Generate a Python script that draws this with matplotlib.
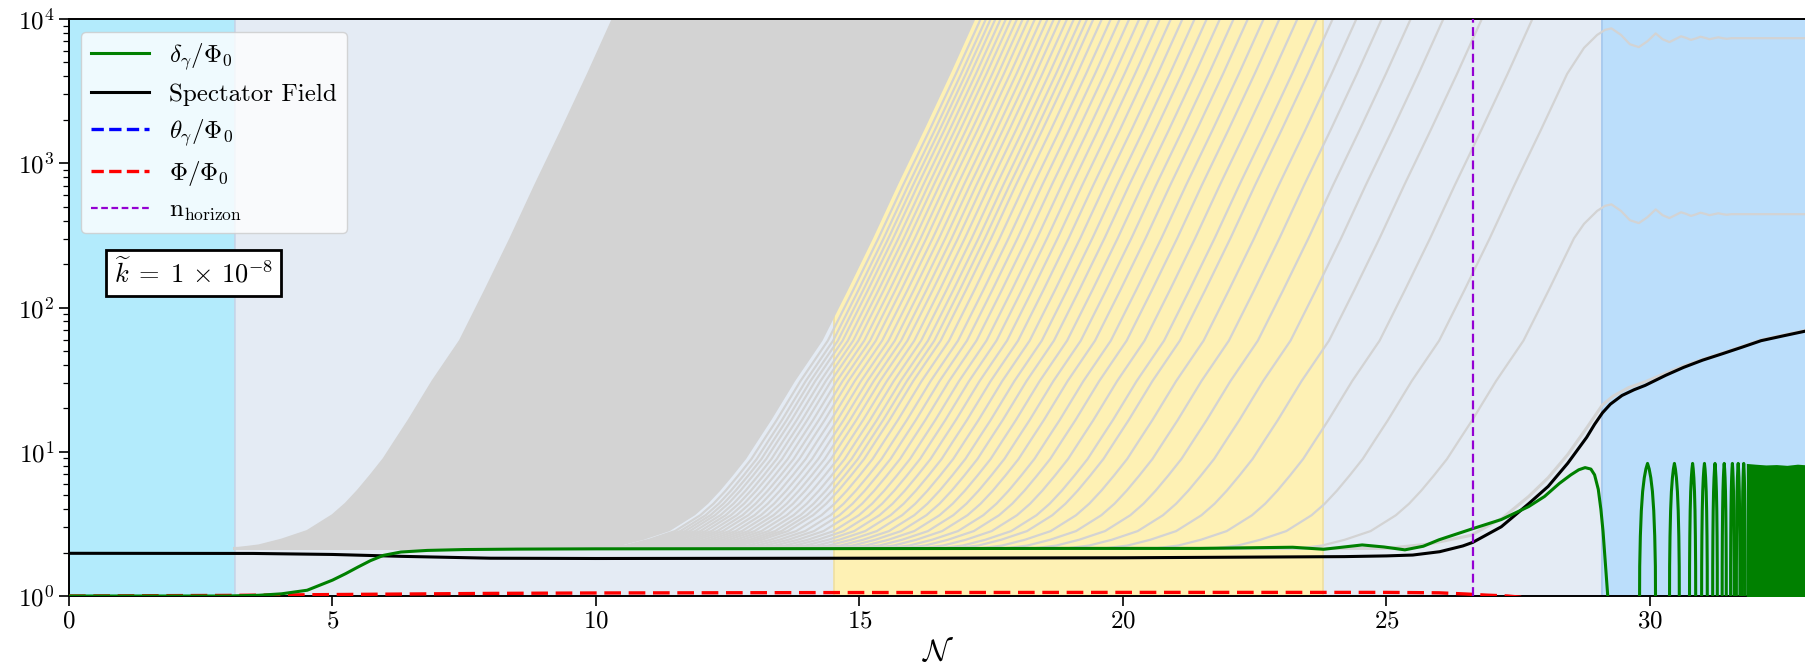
import numpy as np
import matplotlib
matplotlib.use('Agg')
import matplotlib.pyplot as plt

plt.rcParams['font.family'] = 'serif'
plt.rcParams['font.serif'] = ['cmr10']
plt.rcParams['mathtext.fontset'] = 'cm'
plt.rcParams['axes.formatter.use_mathtext'] = True
plt.rcParams['axes.unicode_minus'] = False

# background eras
span_start = [0.0, 3.15, 14.52, 29.1]
span_end = [3.15, 29.1, 23.8, 33.3]
span_colors = ['#b3ebfc', '#e4ebf4', '#fef1b4', '#bbdefb']
span_edges = ['#9fd6f2', '#c9d6e8', '#efe0a0', '#a6c9ee']

# left envelope of the grey mode family (N, log10 y)
env_N = [3.16, 3.6, 4.03, 4.52, 5.0, 5.25, 5.48, 5.72, 5.97, 6.2, 6.45, 6.9, 7.42,
         7.9, 8.38, 8.85, 9.35, 9.85, 10.32]
env_logy = [0.33, 0.35, 0.39, 0.45, 0.56, 0.64, 0.73, 0.835, 0.95, 1.08, 1.22, 1.49,
            1.77, 2.12, 2.48, 2.85, 3.23, 3.62, 4.00]
N_start = 3.15

# where the separated grey lines reach 10^4
fill_last = 17.2
line_cross = [17.30, 17.40, 17.49, 17.58, 17.68, 17.78, 17.88, 17.99, 18.10, 18.21,
              18.33, 18.45, 18.57, 18.69, 18.81, 18.94, 19.07, 19.20, 19.32, 19.44,
              19.60, 19.77, 19.94, 20.12, 20.31, 20.50, 20.70, 20.91, 21.13, 21.36,
              21.59, 21.84, 22.10, 22.37, 22.67, 22.97, 23.31, 23.68, 23.98, 24.43,
              24.91, 25.46, 26.08, 26.81, 27.77]

# the two grey modes that freeze at N = 29.1
plat_cross = [28.9, 30.5]
plat_peak = [3.935, 2.715]
bend_N = [28.75, 29.0, 29.15]
bend_dlog = [-0.135, -0.045, -0.01]
osc_N = [29.27, 29.45, 29.62, 29.79, 29.95, 30.11, 30.24, 30.37, 30.48, 30.59,
         30.68, 30.78, 30.87, 30.96, 31.05, 31.13, 31.22, 31.30, 31.38, 31.46,
         31.55, 31.70, 33.3]
osc_dlog = [0.0, -0.045, -0.11, -0.13, -0.09, -0.035, -0.075, -0.095, -0.075, -0.055,
            -0.065, -0.08, -0.07, -0.058, -0.066, -0.075, -0.068, -0.062, -0.068, -0.072,
            -0.068, -0.068, -0.068]

# grey mode running just above the spectator field
E_N = [3.15, 25.0, 25.8, 26.6, 27.2, 27.7, 28.07, 28.44, 28.8, 29.1, 29.3, 29.6,
       29.91, 30.3, 30.64, 31.0, 31.38, 31.75, 32.11, 32.55, 33.0, 33.3]
E_logy = [0.33, 0.33, 0.36, 0.42, 0.54, 0.69, 0.82, 0.98, 1.165, 1.325, 1.385, 1.445,
          1.485, 1.545, 1.595, 1.64, 1.685, 1.73, 1.775, 1.81, 1.845, 1.86]

# spectator field
black_N = [0, 3.5, 5.0, 6.3, 8.0, 10, 15, 20, 24.2, 25.0, 25.5, 26.01, 26.45, 26.64,
           27.18, 27.7, 28.07, 28.44, 28.8, 28.95, 29.1, 29.25, 29.47, 29.7, 29.91,
           30.3, 30.64, 31.0, 31.38, 31.75, 32.11, 32.55, 33.0, 33.3]
black_logy = [0.296, 0.295, 0.288, 0.275, 0.262, 0.26, 0.262, 0.265, 0.273, 0.278,
              0.284, 0.307, 0.347, 0.372, 0.48, 0.64, 0.76, 0.92, 1.10, 1.19, 1.27,
              1.33, 1.39, 1.43, 1.46, 1.53, 1.585, 1.635, 1.68, 1.725, 1.77, 1.805,
              1.84, 1.86]

# delta_gamma / Phi_0
green_N = [0, 3.0, 3.6, 4.03, 4.52, 5.0, 5.25, 5.48, 5.72, 5.97, 6.3, 6.8, 7.5, 8.5,
           10, 13, 16, 19, 21.46, 23.22, 23.81, 24.2, 24.54, 24.95, 25.35, 25.7, 26.0,
           26.64, 27.18, 27.7, 28.0, 28.28, 28.5, 28.65, 28.77, 28.88, 28.95, 29.02,
           29.07, 29.11, 29.15, 29.2, 29.24]
green_logy = [0.0, 0.0, 0.005, 0.015, 0.04, 0.11, 0.155, 0.20, 0.245, 0.282, 0.305,
              0.316, 0.322, 0.325, 0.327, 0.328, 0.329, 0.33, 0.33, 0.338, 0.324,
              0.34, 0.354, 0.34, 0.32, 0.345, 0.39, 0.467, 0.53, 0.62, 0.69, 0.78,
              0.84, 0.875, 0.89, 0.88, 0.84, 0.74, 0.60, 0.45, 0.25, 0.0, -0.3]
arch_start = [29.80, 30.37, 30.75, 30.98, 31.19, 31.37, 31.53, 31.64, 31.75]
arch_end = [30.11, 30.56, 30.87, 31.09, 31.28, 31.45, 31.60, 31.71, 31.81]
arch_t = [0.0, 0.02, 0.06, 0.12, 0.2, 0.3, 0.4, 0.5, 0.6, 0.7, 0.8, 0.88, 0.94, 0.98, 1.0]
arch_y = [0.5, 1.6, 2.6, 3.9, 5.3, 6.6, 7.6, 8.3, 7.6, 6.6, 5.3, 3.9, 2.6, 1.6, 0.5]
block_N = [31.83, 32.0, 32.2, 32.4, 32.6, 32.8, 33.0, 33.3]
block_top = [8.3, 8.2, 8.1, 8.15, 8.05, 8.2, 8.1, 8.1]

# Phi / Phi_0
red_N = [0, 3, 5, 8, 10, 15, 20, 25, 26.0, 26.5, 26.9, 27.3, 27.6]
red_logy = [0.0, 0.004, 0.01, 0.018, 0.021, 0.024, 0.025, 0.025, 0.022, 0.014,
            0.006, 0.0, -0.01]

n_horizon = 26.64
k_label = r'$\widetilde{k}\;=\;1\,\times\,10^{-8}$'

GREY = '#d3d3d3'


def shifted(cross):
    n = np.array(env_N) + (cross - env_N[-1])
    return np.concatenate([[N_start], n]), 10 ** np.concatenate([[env_logy[0]], env_logy])


fig = plt.figure(figsize=(18.06, 6.70), dpi=100)
ax = fig.add_axes([69 / 1806, 74 / 670, 1739 / 1806, 577 / 670])

for s, e, c, ec in zip(span_start, span_end, span_colors, span_edges):
    ax.axvspan(s, e, facecolor=c, edgecolor=ec, lw=1.2, zorder=0.5)

# dense block of modes -> solid
nl, yl = shifted(env_N[-1])
nr, yr = shifted(fill_last)
ax.fill(np.concatenate([nl, nr[::-1]]), np.concatenate([yl, yr[::-1]]),
        color=GREY, lw=0, zorder=1)
ax.plot(nl, yl, color=GREY, lw=1.6, zorder=1)

for c in line_cross:
    n, y = shifted(c)
    ax.plot(n, y, color=GREY, lw=1.6, zorder=1)

for cross, peak in zip(plat_cross, plat_peak):
    n, y = shifted(cross)
    keep = n < 28.6
    n_all = np.concatenate([n[keep], bend_N, osc_N])
    y_all = np.concatenate([y[keep], 10 ** (peak + np.array(bend_dlog)),
                            10 ** (peak + np.array(osc_dlog))])
    ax.plot(n_all, y_all, color=GREY, lw=1.6, zorder=1)

ax.plot(E_N, 10 ** np.array(E_logy), color=GREY, lw=2.2, zorder=1)

ax.plot(red_N, 10 ** np.array(red_logy), color='red', lw=2.4, dashes=(5, 2.3), zorder=3)
ax.plot(black_N, 10 ** np.array(black_logy), color='black', lw=2.2, zorder=4)
ax.plot(green_N, 10 ** np.array(green_logy), color='green', lw=2.2, zorder=5)
for s, e in zip(arch_start, arch_end):
    ax.plot(s + np.array(arch_t) * (e - s), arch_y, color='green', lw=2.2, zorder=5)
ax.fill_between(block_N, 0.5, block_top, color='green', lw=0, zorder=5)

ax.axvline(n_horizon, color='darkviolet', lw=1.6, dashes=(4, 2), zorder=6)

# legend entries
h_green, = ax.plot([], [], color='green', lw=2.2, label=r'$\delta_\gamma/\Phi_0$')
h_black, = ax.plot([], [], color='black', lw=2.2, label='Spectator Field')
h_blue, = ax.plot([], [], color='blue', lw=2.4, dashes=(3.7, 1.6), label=r'$\theta_\gamma/\Phi_0$')
h_red, = ax.plot([], [], color='red', lw=2.4, dashes=(3.7, 1.6), label=r'$\Phi/\Phi_0$')
h_purp, = ax.plot([], [], color='darkviolet', lw=1.6, dashes=(3, 1.6), label=r'$\mathrm{n_{horizon}}$')
leg = ax.legend(handles=[h_green, h_black, h_blue, h_red, h_purp], loc='upper left',
                fontsize=18, handlelength=2.3, labelspacing=0.45)
leg.set_zorder(10)

ax.text(2.36, 174, k_label, fontsize=19, ha='center', va='center', zorder=9,
        bbox=dict(boxstyle='square,pad=0.3', facecolor='white', edgecolor='black', lw=2))

ax.set_yscale('log')
ax.set_ylim(1, 1e4)
ax.set_xlim(0, 33.0)
ax.set_xticks([0, 5, 10, 15, 20, 25, 30])
ax.set_xlabel(r'$\mathcal{N}$', fontsize=22, labelpad=4)
ax.tick_params(axis='both', which='major', labelsize=18, direction='out', length=7, width=1.2)
ax.tick_params(axis='both', which='minor', direction='out', length=4, width=0.9)
for sp in ax.spines.values():
    sp.set_linewidth(1.4)
ax.spines['right'].set_visible(False)

fig.savefig('out.png', dpi=100)
